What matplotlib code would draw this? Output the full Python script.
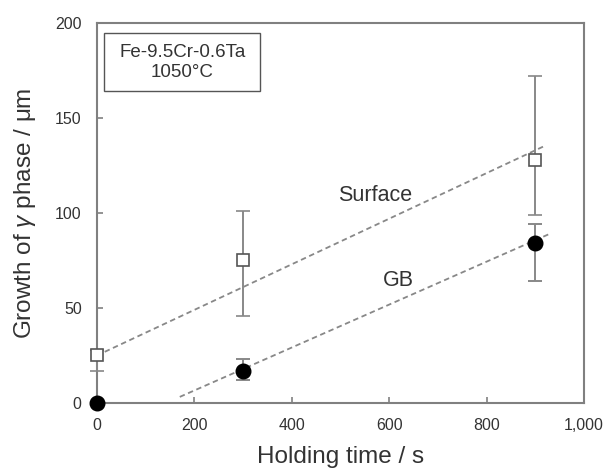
import matplotlib
matplotlib.use("Agg")
import matplotlib.pyplot as plt
from matplotlib.patches import Rectangle
from matplotlib.ticker import FuncFormatter
import numpy as np

plt.rcParams['font.family'] = ['Liberation Sans', 'DejaVu Sans']
plt.rcParams['mathtext.fontset'] = 'custom'
plt.rcParams['mathtext.it'] = 'Liberation Sans:italic'

# Holding time (s) and growth of gamma phase (um)
surface_t = [0, 300, 900]
surface_g = [25, 75, 128]
surface_err_lo = [8, 29, 29]
surface_err_hi = [3, 26, 44]

gb_t = [0, 300, 900]
gb_g = [0, 17, 84]
gb_err_lo = [0, 5, 20]
gb_err_hi = [0, 6, 10]

# Linear trend lines: (intercept, slope, t_start, t_end)
surface_fit = (25.0, 0.12, 16, 916)
gb_fit = (-16.0, 0.113, 170, 928)

text_col = '#333333'
axis_col = '#808080'

fig = plt.figure(figsize=(6.06, 4.71), dpi=100)
ax = fig.add_axes([0.160, 0.1444, 0.804, 0.807])

for fit in (surface_fit, gb_fit):
    a, b, t0, t1 = fit
    tt = np.array([t0, t1])
    ax.plot(tt, a + b * tt, linestyle=(0, (3, 2)), color='#888888', lw=1.3, zorder=2)

ax.errorbar(surface_t, surface_g, yerr=[surface_err_lo, surface_err_hi],
            fmt='s', ms=9, mfc='white', mec='#555555', mew=1.2,
            ecolor='#888888', elinewidth=1.4, capsize=5, capthick=1.4,
            zorder=3, clip_on=False)
ax.errorbar(gb_t, gb_g, yerr=[gb_err_lo, gb_err_hi],
            fmt='o', ms=10.5, mfc='black', mec='black',
            ecolor='#888888', elinewidth=1.4, capsize=5, capthick=1.4,
            zorder=4, clip_on=False)

ax.set_xlim(0, 1000)
ax.set_ylim(0, 200)
ax.set_xticks([0, 200, 400, 600, 800, 1000])
ax.set_yticks([0, 50, 100, 150, 200])
ax.xaxis.set_major_formatter(FuncFormatter(lambda v, p: f'{v:,.0f}'))

for s in ax.spines.values():
    s.set_color(axis_col)
    s.set_linewidth(1.5)

ax.tick_params(axis='both', direction='in', length=4, width=1.2, color=axis_col,
               labelsize=11.5, labelcolor=text_col)
ax.tick_params(axis='y', pad=11)
ax.tick_params(axis='x', pad=11)

ax.set_xlabel('Holding time / s', fontsize=17.5, color=text_col, labelpad=9)
ax.set_ylabel(r'Growth of $\it{\gamma}$ phase / μm', fontsize=17.5,
              color=text_col, labelpad=12)

ax.add_patch(Rectangle((0.0144, 0.821), 0.321, 0.153, transform=ax.transAxes,
                       fc='white', ec='#555555', lw=1.0, zorder=5))
ax.text(0.175, 0.896, 'Fe-9.5Cr-0.6Ta\n1050°C', transform=ax.transAxes,
        ha='center', va='center', fontsize=13.5, color=text_col,
        linespacing=1.25, zorder=6)

ax.text(0.571, 0.547, 'Surface', transform=ax.transAxes, ha='center',
        va='center', fontsize=15.5, color=text_col)
ax.text(0.619, 0.321, 'GB', transform=ax.transAxes, ha='center',
        va='center', fontsize=15.5, color=text_col)

fig.savefig('out.png', dpi=100)
